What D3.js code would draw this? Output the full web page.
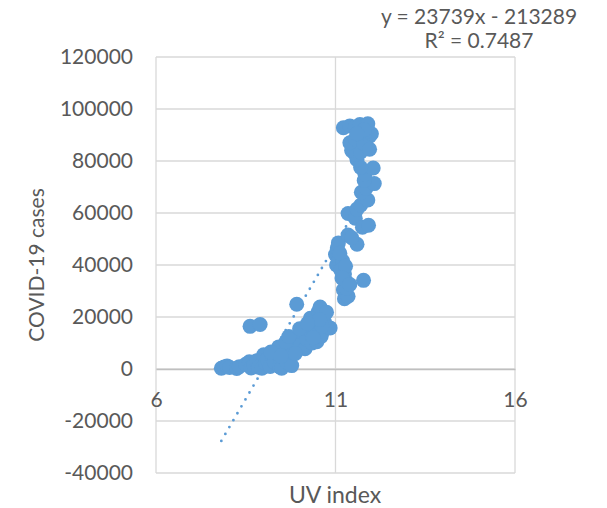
<!DOCTYPE html>
<html>
<head>
<meta charset="utf-8">
<script src="https://cdn.jsdelivr.net/npm/d3@7/dist/d3.min.js"></script>
<style>
  html, body { margin: 0; padding: 0; background: #fff; }
  svg { display: block; font-family: Lato, "Open Sans", sans-serif; }
</style>
</head>
<body>
<svg id="chart" width="607" height="508"></svg>
<script>
// UV index vs. daily COVID-19 cases
const uvIndex = [
  7.82, 7.90, 7.98, 8.05, 8.25, 8.32, 8.50, 8.60, 8.65, 8.72,
  8.80, 8.85, 8.95, 9.00, 9.05, 9.10, 9.18, 9.25, 9.30, 9.38,
  9.45, 9.50, 9.55, 9.60, 9.65, 9.72, 9.78, 9.80,
  8.62, 8.90, 9.92,
  9.85, 9.92, 9.98, 10.05, 10.10, 10.15, 10.20, 10.25, 10.30, 10.35,
  10.40, 10.45, 10.48, 10.52, 10.57, 10.60, 10.65, 10.70, 10.75, 10.85,
  10.62, 10.55,
  9.42, 9.62, 9.70, 9.88, 10.00, 10.22, 10.38, 9.20, 9.48,
  11.00, 11.05, 11.08, 11.03, 11.10, 11.20, 11.15, 11.25, 11.30, 11.22,
  11.25, 11.35, 11.30, 11.78, 11.60, 11.35, 11.45, 11.35, 11.55, 11.75,
  11.92, 11.60, 11.70, 11.90, 11.72, 11.85, 12.08, 11.80, 11.82, 12.05,
  11.70, 11.60, 11.55, 11.45, 11.70, 11.40, 11.55, 11.78, 11.95, 12.00,
  11.85, 11.22, 11.40, 11.55, 11.68, 11.90, 11.80, 11.60, 11.95,
  11.12, 11.28, 11.18, 11.40
];
const cases = [
  300, 800, 1200, 600, 200, 900, 1800, 2800, 400, 1500,
  3200, 700, 300, 5500, 2200, 3800, 1000, 4500, 2600, 6000,
  800, 300, 7200, 4200, 2500, 9500, 1300, 6500,
  16400, 17100, 24900,
  11000, 8000, 12500, 9500, 14000, 7800, 11500, 15500, 19500, 10000,
  13000, 17500, 10500, 22000, 23800, 12500, 14500, 18000, 21800, 15800,
  16500, 19000,
  8500, 10500, 12500, 6000, 15500, 17500, 12000, 6500, 5000,
  44000, 46500, 48500, 40000, 42000, 41500, 38000, 36500, 33500, 30500,
  27000, 28000, 31000, 34100, 48000, 51500, 50500, 59800, 58000, 54500,
  55300, 61500, 63000, 65000, 68000, 69500, 71300, 72500, 75000, 77300,
  77500, 80500, 82500, 84000, 83500, 87000, 88500, 86800, 89500, 90500,
  91500, 92800, 93500, 93000, 94000, 94300, 92000, 90500, 84500,
  44500, 39500, 35000, 32500
];
const xTicks = [6, 11, 16];
const yTicks = [-40000, -20000, 0, 20000, 40000, 60000, 80000, 100000, 120000];
const trendSlope = 23739;
const trendIntercept = -213289;
const equationLines = ["y = 23739x - 213289", "R² = 0.7487"];

const points = uvIndex.map((u, i) => ({ x: u, y: cases[i] }));

const svg = d3.select("#chart");
const plot = { left: 156, right: 515, top: 57, bottom: 473 };
const x = d3.scaleLinear().domain([6, 16]).range([plot.left, plot.right]);
const y = d3.scaleLinear().domain([-40000, 120000]).range([plot.bottom, plot.top]);

const textColor = "#595959";
const gridColor = "#D9D9D9";
const markColor = "#5B9BD5";

// gridlines
svg.append("g").selectAll("line.h").data(yTicks).join("line")
  .attr("x1", plot.left).attr("x2", plot.right)
  .attr("y1", d => y(d)).attr("y2", d => y(d))
  .attr("stroke", gridColor).attr("stroke-width", 1.3);
svg.append("g").selectAll("line.v").data(xTicks).join("line")
  .attr("x1", d => x(d)).attr("x2", d => x(d))
  .attr("y1", plot.top).attr("y2", plot.bottom)
  .attr("stroke", gridColor).attr("stroke-width", 1.3);

// y axis labels
const yAxis = svg.append("g")
  .attr("transform", `translate(${plot.left},0)`)
  .call(d3.axisLeft(y).tickValues(yTicks).tickSize(0).tickPadding(23).tickFormat(d => String(d)));
yAxis.select(".domain").remove();
yAxis.selectAll("text").attr("fill", textColor).style("font-size", "21px").style("font-family", "Lato, sans-serif");

// x axis, crossing at zero
const xAxis = svg.append("g")
  .attr("transform", `translate(0,${y(0)})`)
  .call(d3.axisBottom(x).tickValues(xTicks).tickSize(0).tickPadding(23).tickFormat(d => String(d)));
xAxis.select(".domain").attr("stroke", "#BFBFBF").attr("stroke-width", 1.3);
xAxis.selectAll("text").attr("fill", textColor).style("font-size", "21px").style("font-family", "Lato, sans-serif");

// linear trendline
const xExt = d3.extent(uvIndex);
const trend = xExt.map(v => ({ x: v, y: trendSlope * v + trendIntercept }));
svg.append("path")
  .datum(trend)
  .attr("d", d3.line().x(d => x(d.x)).y(d => y(d.y)))
  .attr("fill", "none")
  .attr("stroke", markColor)
  .attr("stroke-width", 2.8)
  .attr("stroke-linecap", "round")
  .attr("stroke-dasharray", "0 8");

// scatter markers
svg.append("g").selectAll("circle").data(points).join("circle")
  .attr("cx", d => x(d.x)).attr("cy", d => y(d.y))
  .attr("r", 7.5)
  .attr("fill", markColor);

// axis titles
svg.append("text")
  .attr("x", 335).attr("y", 503)
  .attr("text-anchor", "middle")
  .attr("fill", textColor)
  .style("font-size", "23px")
  .text("UV index");
svg.append("text")
  .attr("transform", "translate(44,265) rotate(-90)")
  .attr("text-anchor", "middle")
  .attr("fill", textColor)
  .style("font-size", "21px")
  .text("COVID-19 cases");

// trendline equation
svg.append("g").selectAll("text").data(equationLines).join("text")
  .attr("x", 479).attr("y", (d, i) => 24 + i * 24)
  .attr("text-anchor", "middle")
  .attr("fill", textColor)
  .style("font-size", "21px")
  .text(d => d);
</script>
</body>
</html>
